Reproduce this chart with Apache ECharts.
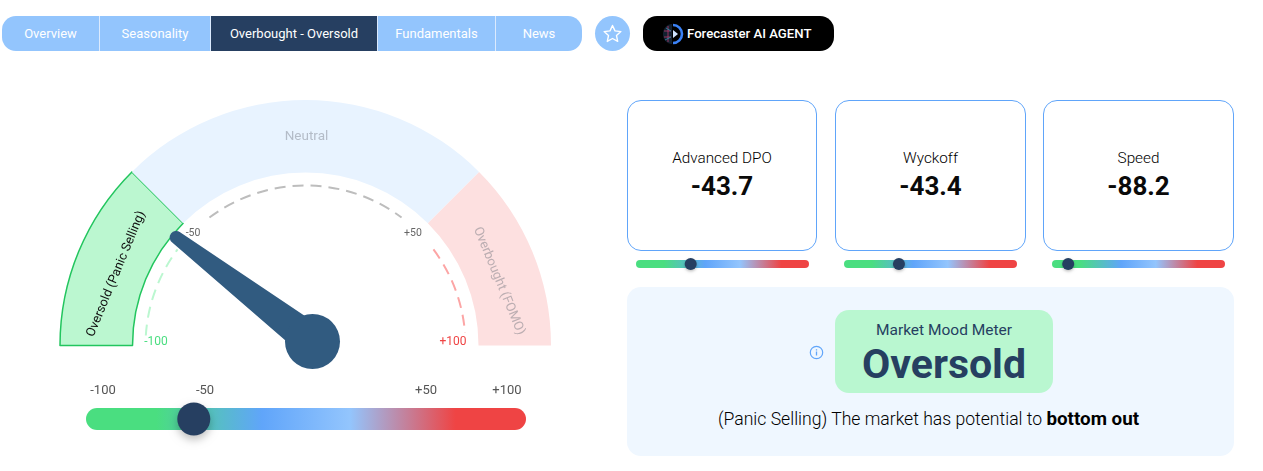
<!DOCTYPE html>
<html>
<head>
<meta charset="utf-8">
<script src="https://cdn.jsdelivr.net/npm/echarts@6/dist/echarts.min.js"></script>
<style>
html, body { margin: 0; padding: 0; background: #fff; overflow: hidden; font-family: Roboto, sans-serif; }
#chart { position: absolute; left: 0; top: 0; width: 1263px; height: 471px; z-index: 2; }
.abs { position: absolute; box-sizing: border-box; }
.nav { top: 16px; height: 35px; line-height: 35px; font-size: 13px; color: #fff; text-align: center; background: #93c5fd; border-right: 1px solid #dbeafe; }
.card { top: 100px; height: 151px; border: 1px solid #60a5fa; border-radius: 14px; text-align: center; background: #fff; }
.card .t { margin-top: 49px; font-size: 15.3px; font-weight: 300; line-height: 17px; color: #000; }
.card .v { margin-top: 2px; font-size: 26px; line-height: 34px; font-weight: 700; color: #0a0a0a; }
</style>
</head>
<body>
<div class="abs nav" style="left:2px;width:98px;border-radius:14px 0 0 14px">Overview</div>
<div class="abs nav" style="left:100px;width:111px">Seasonality</div>
<div class="abs nav" style="left:211px;width:167px;background:#263f61">Overbought - Oversold</div>
<div class="abs nav" style="left:378px;width:118px">Fundamentals</div>
<div class="abs nav" style="left:496px;width:86px;border-radius:0 14px 14px 0;border-right:0">News</div>

<div class="abs" style="left:595px;top:16px;width:35px;height:35px;border-radius:50%;background:#93c5fd">
  <svg width="35" height="35" viewBox="0 0 35 35"><path d="M17.5 9.5l2.5 5.4 5.9.7-4.4 4 1.2 5.8-5.2-2.9-5.2 2.9 1.2-5.8-4.4-4 5.9-.7z" fill="none" stroke="#fff" stroke-width="1.4" stroke-linejoin="round"/></svg>
</div>
<div class="abs" style="left:643px;top:16px;width:191px;height:35px;border-radius:14px;background:#000;color:#fff;font-size:13.2px;font-weight:500;line-height:35px;padding-left:44px">Forecaster AI AGENT</div>
<svg class="abs" style="left:660px;top:22px;z-index:3" width="24" height="24" viewBox="0 0 24 24">
  <path d="M13 3a9 9 0 0 1 0 18" fill="none" stroke="#3b82f6" stroke-width="2.6"/>
  <path d="M12 2C7 2 3 6.5 3 12s4 10 9 10z" fill="#13202f"/>
  <path d="M4 9h7M4 15h7M8 4v16" stroke="#b83a6c" stroke-width=".8"/>
  <path d="M6 6l5 3M5 18l6-3" stroke="#2f8fb0" stroke-width=".8"/>
  <path d="M13 8l5 4-5 4z" fill="#cfe3ff"/>
</svg>

<div class="abs card" style="left:627px;width:190px"><div class="t" id="t0"></div><div class="v" id="v0"></div></div>
<div class="abs card" style="left:835px;width:191px"><div class="t" id="t1"></div><div class="v" id="v1"></div></div>
<div class="abs card" style="left:1043px;width:191px"><div class="t" id="t2"></div><div class="v" id="v2"></div></div>

<div class="abs" style="left:627px;top:287px;width:607px;height:169px;border-radius:14px;background:#eff7ff"></div>
<div class="abs" style="left:835px;top:310px;width:218px;height:83px;border-radius:14px;background:#b9f7d0;text-align:center;color:#263f61">
  <div style="font-size:15.5px;line-height:17px;margin-top:12px">Market Mood Meter</div>
  <div style="font-size:41px;line-height:48px;font-weight:700;margin-top:1px">Oversold</div>
</div>
<svg class="abs" style="left:809px;top:345px" width="15" height="15" viewBox="0 0 15 15"><circle cx="7.5" cy="7.5" r="6.2" fill="none" stroke="#60a5fa" stroke-width="1.2"/><path d="M7.5 6.6v4M7.5 4.2v1.3" stroke="#60a5fa" stroke-width="1.3"/></svg>
<div class="abs" style="left:627px;top:408px;width:603px;text-align:center;font-size:17.6px;font-weight:300;line-height:22px;color:#000">(Panic Selling) The market has potential to <b style="color:#000;font-weight:700;font-size:18.8px">bottom out</b></div>

<div id="chart"></div>
<script>
var zoneNames = ['Oversold (Panic Selling)', 'Neutral', 'Overbought (FOMO)'];
var zoneValues = [50, 100, 50];
var zoneColors = ['#bbf7d0', '#e8f3ff', '#fde0e0'];
var zoneTextColors = ['#111', '#b4bcc8', '#bcaeb2'];

var gaugeValue = -58.5;
var sliderNames = ['Advanced DPO', 'Wyckoff', 'Speed'];
var sliderValues = [-43.7, -43.4, -88.2];

// dashed arc pieces inside the gauge, on the -100..100 scale
var dashStart = [-96, -41, 59];
var dashEnd = [-59, 41, 95];
var dashColors = ['#bbf7d0', '#bdbdbd', '#fca5a5'];

var trackStops = [
    { offset: 0, color: '#4ade80' },
    { offset: 0.16, color: '#4ade80' },
    { offset: 0.4, color: '#60a5fa' },
    { offset: 0.6, color: '#93c5fd' },
    { offset: 0.84, color: '#ef4444' },
    { offset: 1, color: '#ef4444' }
];

sliderNames.forEach(function (name, i) {
    document.getElementById('t' + i).textContent = name;
    document.getElementById('v' + i).textContent = sliderValues[i];
});

var myChart = echarts.init(document.getElementById('chart'));

function renderDash(params, api) {
    var a = api.coord([1, api.value(0)]);
    var b = api.coord([1, api.value(1)]);
    return {
        type: 'arc',
        shape: {
            cx: params.coordSys.cx,
            cy: params.coordSys.cy,
            r: params.coordSys.r,
            startAngle: -a[3],
            endAngle: -b[3],
            clockwise: true
        },
        style: { fill: null, stroke: dashColors[params.dataIndex], lineWidth: 2, lineDash: [11, 7] }
    };
}

function renderTrack(params, api) {
    var a = api.coord([api.value(0), 1]);
    var b = api.coord([api.value(1), 0]);
    return {
        type: 'rect',
        shape: { x: a[0], y: a[1], width: b[0] - a[0], height: b[1] - a[1], r: (b[1] - a[1]) / 2 },
        style: { fill: new echarts.graphic.LinearGradient(0, 0, 1, 0, trackStops) }
    };
}

// one small grid per slider: [left, top, width, height, thumb size]
var sliderBoxes = [
    [86, 408, 440, 22, 33],
    [636, 260, 173, 8, 12],
    [844, 260, 173, 8, 12],
    [1052, 260, 173, 8, 12]
];
var allValues = [gaugeValue].concat(sliderValues);

var grids = [], xAxes = [], yAxes = [], sliderSeries = [];
sliderBoxes.forEach(function (box, i) {
    grids.push({ left: box[0], top: box[1], width: box[2], height: box[3] });
    xAxes.push({ type: 'value', gridIndex: i, min: -100, max: 100, show: false });
    yAxes.push({ type: 'value', gridIndex: i, min: 0, max: 1, show: false });
    sliderSeries.push({
        type: 'custom',
        xAxisIndex: i,
        yAxisIndex: i,
        silent: true,
        z: 3,
        renderItem: renderTrack,
        encode: { x: [0, 1] },
        data: [[-100, 100]]
    });
    sliderSeries.push({
        type: 'scatter',
        xAxisIndex: i,
        yAxisIndex: i,
        silent: true,
        clip: false,
        z: 4,
        symbolSize: box[4],
        // the thumb hangs from its left edge, as the page slider does
        symbolOffset: [box[4] / 2, 0],
        itemStyle: {
            color: '#263f61', opacity: 1,
            shadowColor: 'rgba(0,0,0,0.25)', shadowBlur: box[4] / 4, shadowOffsetY: box[4] / 8
        },
        data: [[allValues[i], 0.5]]
    });
});

function tickText(x, y, text, fill, size) {
    return {
        type: 'text', x: x, y: y, silent: true,
        style: { text: text, fill: fill, font: size + 'px Roboto', align: 'center', verticalAlign: 'middle' }
    };
}

// label offsets are in the rotated frame of each label
var zoneLabelOffsets = [[-6.4, 10], [1, 3.5], [14.5, 9]];
var zoneLabelSizes = [12.75, 13.5, 13];

var option = {
    animation: false,
    grid: grids,
    xAxis: xAxes,
    yAxis: yAxes,
    polar: { center: [305.5, 345.5], radius: [0, 160] },
    radiusAxis: { min: 0, max: 1, show: false },
    angleAxis: { min: -100, max: 300, startAngle: 180, show: false },
    graphic: [
        tickText(156, 342, '-100', '#4ade80', 12),
        tickText(193, 233, '-50', '#666', 10.5),
        tickText(413, 233, '+50', '#666', 10.5),
        tickText(453, 342, '+100', '#ef4444', 12),
        tickText(103, 391, '-100', '#555', 13),
        tickText(205, 391, '-50', '#555', 13),
        tickText(426, 391, '+50', '#555', 13),
        tickText(507, 391, '+100', '#555', 13)
    ],
    series: [{
        type: 'pie',
        center: [305.5, 345.5],
        radius: [173, 245.5],
        startAngle: 180,
        endAngle: 0,
        silent: true,
        z: 1,
        label: { show: true, position: 'inside', rotate: 'tangential', fontFamily: 'Roboto' },
        labelLine: { show: false },
        data: zoneNames.map(function (name, i) {
            return {
                name: name,
                value: zoneValues[i],
                itemStyle: i === 0
                    ? { color: zoneColors[i], borderColor: '#22c55e', borderWidth: 1.5 }
                    : { color: zoneColors[i] },
                label: { color: zoneTextColors[i], fontSize: zoneLabelSizes[i], offset: zoneLabelOffsets[i] }
            };
        })
    }, {
        type: 'custom',
        coordinateSystem: 'polar',
        silent: true,
        z: 2,
        renderItem: renderDash,
        encode: { angle: [0, 1] },
        data: dashStart.map(function (s, i) { return [s, dashEnd[i]]; })
    }, {
        type: 'gauge',
        center: [312.5, 341.5],
        radius: 178,
        min: -100,
        max: 100,
        startAngle: 180,
        endAngle: 0,
        silent: true,
        z: 5,
        axisLine: { show: false },
        axisTick: { show: false },
        splitLine: { show: false },
        axisLabel: { show: false },
        title: { show: false },
        detail: { show: false },
        pointer: {
            icon: 'path://M10.5 6.5A6.5 6.5 0 0 1 23.5 6.5L34 178L0 178Z',
            length: 178,
            width: 34,
            itemStyle: { color: '#315b80' }
        },
        anchor: { show: true, showAbove: true, size: 55, itemStyle: { color: '#315b80', borderWidth: 0 } },
        data: [{ value: gaugeValue }]
    }].concat(sliderSeries)
};

myChart.setOption(option);
</script>
</body>
</html>
